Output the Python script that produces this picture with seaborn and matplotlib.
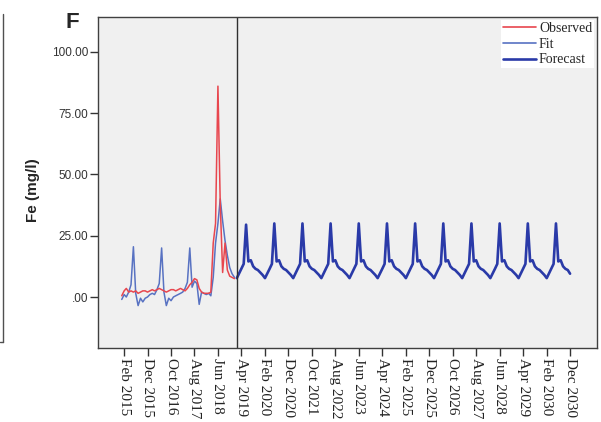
import pandas as pd
import matplotlib
matplotlib.use("Agg")
import matplotlib.pyplot as plt
import seaborn as sns
from matplotlib.lines import Line2D

# ---- data -------------------------------------------------------------
# Monthly Fe concentration (mg/l), observed period Jan 2015 - Jan 2019
observed = [0.5, 2.5, 3.5, 2.0, 2.5, 2.0, 2.5, 1.5, 2.0, 2.5, 2.5, 2.0,
            2.5, 3.0, 2.5, 3.0, 3.5, 3.0, 2.5, 2.0, 2.5, 3.0, 3.0, 2.5,
            3.0, 3.5, 3.0, 2.5, 3.5, 5.0, 6.0, 7.5, 7.0, 3.5, 2.0, 1.5,
            1.5, 1.5, 2.0, 22.0, 30.0, 86.0, 38.0, 10.0, 22.0, 11.0, 8.5, 8.0,
            7.5]
fit = [-1.0, 1.0, 0.0, 2.0, 5.0, 20.5, 1.5, -3.5, -0.5, -2.0, -0.5, 0.0,
       1.0, 1.5, 1.0, 3.0, 5.5, 20.0, 2.0, -3.5, -0.5, -1.5, 0.0, 0.5,
       1.0, 1.5, 2.0, 3.5, 6.0, 20.0, 4.0, 6.5, 5.5, -3.0, 2.0, 1.5,
       1.0, 1.5, 0.5, 8.0, 22.0, 30.0, 40.0, 31.0, 23.0, 17.0, 12.0, 9.5,
       8.0]
obs_start = "2015-01"

# Forecast Feb 2019 - Dec 2030
forecast = [
    7.7, 9.5, 11.5, 13.5, 29.5, 14.5, 15.0, 12.5, 11.5, 11.0, 10.0,          # 2019 (Feb-Dec)
    9.0, 7.7, 9.5, 11.5, 13.5, 30.0, 14.5, 15.0, 12.5, 11.5, 11.0, 10.0,     # 2020
    9.0, 7.7, 9.5, 11.5, 13.5, 30.0, 14.5, 15.0, 12.5, 11.5, 11.0, 10.0,     # 2021
    9.0, 7.7, 9.5, 11.5, 13.5, 30.0, 14.5, 15.0, 12.5, 11.5, 11.0, 10.0,     # 2022
    9.0, 7.7, 9.5, 11.5, 13.5, 30.0, 14.5, 15.0, 12.5, 11.5, 11.0, 10.0,     # 2023
    9.0, 7.7, 9.5, 11.5, 13.5, 30.0, 14.5, 15.0, 12.5, 11.5, 11.0, 10.0,     # 2024
    9.0, 7.7, 9.5, 11.5, 13.5, 30.0, 14.5, 15.0, 12.5, 11.5, 11.0, 10.0,     # 2025
    9.0, 7.7, 9.5, 11.5, 13.5, 30.0, 14.5, 15.0, 12.5, 11.5, 11.0, 10.0,     # 2026
    9.0, 7.7, 9.5, 11.5, 13.5, 30.0, 14.5, 15.0, 12.5, 11.5, 11.0, 10.0,     # 2027
    9.0, 7.7, 9.5, 11.5, 13.5, 30.0, 14.5, 15.0, 12.5, 11.5, 11.0, 10.0,     # 2028
    9.0, 7.7, 9.5, 11.5, 13.5, 30.0, 14.5, 15.0, 12.5, 11.5, 11.0, 10.0,     # 2029
    9.0, 7.7, 9.5, 11.5, 13.5, 30.0, 14.5, 15.0, 12.5, 11.5, 11.0, 9.5,      # 2030
]
forecast_start = "2019-02"

x_tick_labels = ["Feb 2015", "Dec 2015", "Oct 2016", "Aug 2017", "Jun 2018",
                 "Apr 2019", "Feb 2020", "Dec 2020", "Oct 2021", "Aug 2022",
                 "Jun 2023", "Apr 2024", "Feb 2025", "Dec 2025", "Oct 2026",
                 "Aug 2027", "Jun 2028", "Apr 2029", "Feb 2030", "Dec 2030"]
y_ticks = [0, 25, 50, 75, 100]
y_tick_labels = [".00", "25.00", "50.00", "75.00", "100.00"]

# ---- frames -----------------------------------------------------------
obs_df = pd.DataFrame({
    "date": pd.date_range(obs_start, periods=len(observed), freq="MS"),
    "observed": observed,
    "fit": fit,
})
fc_df = pd.DataFrame({
    "date": pd.date_range(forecast_start, periods=len(forecast), freq="MS"),
    "forecast": forecast,
})

# ---- figure -----------------------------------------------------------
sns.set_style("ticks")
plt.rcParams["font.family"] = ["Liberation Sans", "DejaVu Sans"]

W, H = 601, 422
fig = plt.figure(figsize=(W / 100, H / 100), dpi=100)
ax = fig.add_axes([98 / W, 1 - 348 / H, (597 - 98) / W, (348 - 17) / H])
ax.set_facecolor("#f0f0f0")

c_obs, c_fit, c_fc = "#e8464e", "#5872c2", "#2a3aa8"
sns.lineplot(data=obs_df, x="date", y="fit", ax=ax, color=c_fit, lw=1.1)
sns.lineplot(data=obs_df, x="date", y="observed", ax=ax, color=c_obs, lw=1.1)
sns.lineplot(data=fc_df, x="date", y="forecast", ax=ax, color=c_fc, lw=1.9)

# boundary between estimation period and forecast
ax.axvline(pd.Timestamp(forecast_start), color="#303030", lw=1.0)

ax.set_xlim(pd.Timestamp("2014-02-27"), pd.Timestamp("2031-11-15"))
ax.set_ylim(-20.8, 114.2)

ax.set_xticks([pd.to_datetime(s, format="%b %Y") for s in x_tick_labels])
ax.set_xticklabels(x_tick_labels, rotation=270, family="Liberation Serif",
                   fontsize=11, color="#222222")
ax.set_yticks(y_ticks)
ax.set_yticklabels(y_tick_labels, fontsize=8.5, color="#333333")
ax.tick_params(axis="both", length=6, width=1, color="#333333", pad=1)
ax.set_xlabel("")
ax.set_ylabel("")

for s in ax.spines.values():
    s.set_visible(True)
    s.set_color("#404040")
    s.set_linewidth(1.0)

handles = [Line2D([], [], color=c_obs, lw=1.2),
           Line2D([], [], color=c_fit, lw=1.2),
           Line2D([], [], color=c_fc, lw=1.9)]
leg = ax.legend(handles, ["Observed", "Fit", "Forecast"], loc="upper right",
                frameon=True, facecolor="white", edgecolor="none", framealpha=1,
                prop={"family": "Liberation Serif", "size": 10},
                handlelength=2.4, handletextpad=0.2, labelspacing=0.2,
                borderpad=0.15, borderaxespad=0.2, fancybox=False)

fig.text(72 / W, 1 - 22 / H, "F", fontsize=16, fontweight="bold",
         ha="center", va="center")
fig.text(33 / W, 1 - 190 / H, "Fe (mg/l)", fontsize=11, fontweight="bold",
         rotation=90, ha="center", va="center")

# edge of the neighbouring panel
fig.add_artist(Line2D([3 / W, 3 / W], [1 - 14 / H, 1 - 342 / H],
                      color="#505050", lw=1.0))
fig.add_artist(Line2D([0, 3 / W], [1 - 342 / H, 1 - 342 / H],
                      color="#505050", lw=1.0))

fig.savefig("out.png", dpi=100, facecolor="white")
